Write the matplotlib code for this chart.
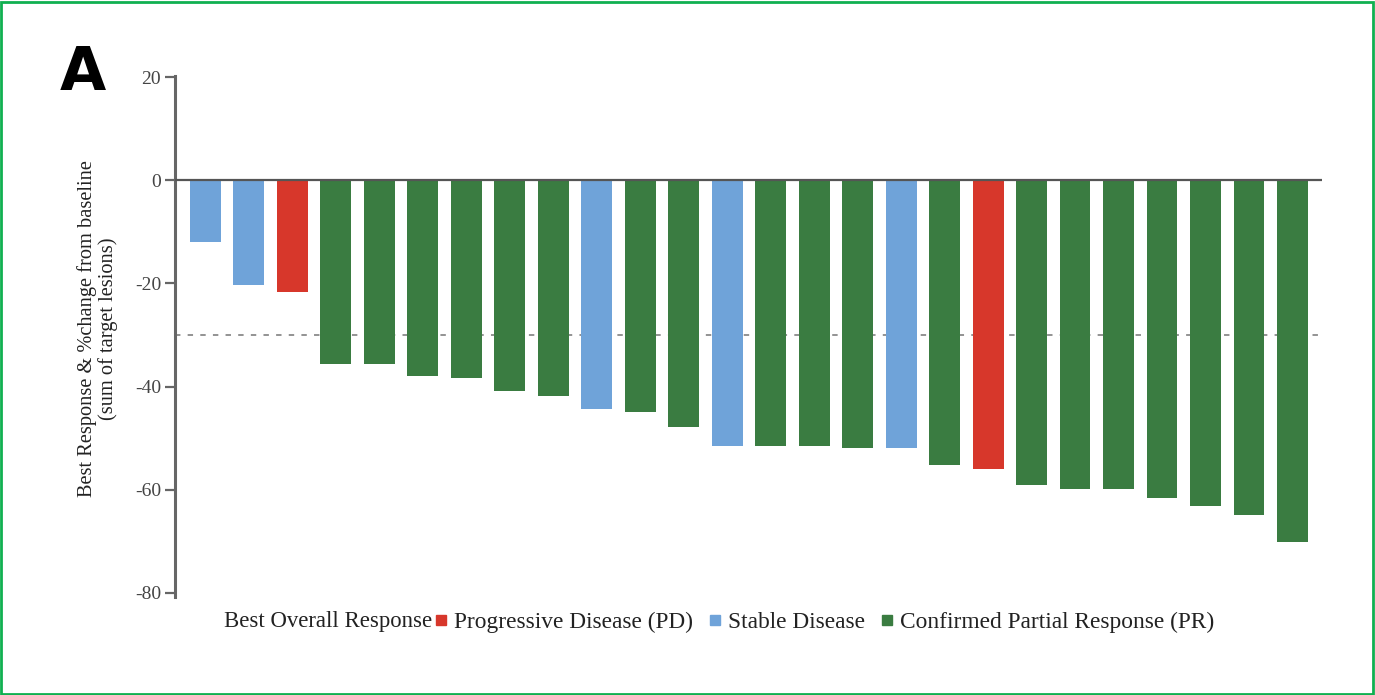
import matplotlib
matplotlib.use("Agg")
import matplotlib.pyplot as plt
from matplotlib.lines import Line2D
from matplotlib.patches import Rectangle

# Best % change from baseline in sum of target lesions, one bar per patient
changes = [-12.0, -20.4, -21.7, -35.7, -35.7, -38.0, -38.4, -40.8, -41.9,
           -44.3, -44.9, -47.8, -51.5, -51.5, -51.5, -52.0, -52.0, -55.3,
           -55.9, -59.0, -59.8, -59.8, -61.7, -63.1, -65.0, -70.1]
responses = ["SD", "SD", "PD", "PR", "PR", "PR", "PR", "PR", "PR",
             "SD", "PR", "PR", "SD", "PR", "PR", "PR", "SD", "PR",
             "PD", "PR", "PR", "PR", "PR", "PR", "PR", "PR"]
response_labels = {"PD": "Progressive Disease (PD)",
                   "SD": "Stable Disease",
                   "PR": "Confirmed Partial Response (PR)"}
yticks = [20, 0, -20, -40, -60, -80]
pr_threshold = -30

colors = {"PD": "#d7372b", "SD": "#6fa3d9", "PR": "#3a7c41"}

plt.rcParams["font.family"] = ["Liberation Serif", "DejaVu Serif"]

W, H = 1375, 695
fig = plt.figure(figsize=(W / 100, H / 100), dpi=100)
ax = fig.add_axes([175 / W, 1 - 597 / H, (1322 - 175) / W, (597 - 76) / H])

x = list(range(len(changes)))
ax.bar(x, changes, width=0.71, color=[colors[r] for r in responses],
       zorder=2)
ax.axhline(0, color="#555555", lw=1.6, zorder=3)
ax.axhline(pr_threshold, color="#8a8a8a", lw=1.3, ls=(0, (3, 4)), zorder=1)

ax.set_xlim(-0.70, 25.68)
ax.set_ylim(-80.8, 20.2)
ax.set_yticks(yticks)
ax.set_yticklabels([str(t) for t in yticks])
ax.set_xticks([])
for side in ("top", "right", "bottom"):
    ax.spines[side].set_visible(False)
ax.spines["left"].set_color("#666666")
ax.spines["left"].set_linewidth(2.2)
ax.tick_params(axis="y", length=7, width=1.6, color="#666666",
               labelsize=14, labelcolor="#444444", pad=3)

ax.set_ylabel("Best Response & %change from baseline\n(sum of target lesions)",
              fontsize=14.7, color="#222222", linespacing=1.1, labelpad=12)
ax.yaxis.label.set_y(0.515)

# legend row under the plot
fig.text(224 / W, 1 - 622 / H, "Best Overall Response", fontsize=16.4,
         color="#222222", ha="left", va="center")
handles = [Line2D([], [], ls="none", marker="s", markersize=7,
                  markerfacecolor=colors[k], markeredgecolor=colors[k],
                  label=response_labels[k]) for k in ("PD", "SD", "PR")]
fig.legend(handles=handles, loc="center left",
           bbox_to_anchor=(436 / W, 1 - 622 / H), ncol=3, frameon=False,
           fontsize=16.8, handlelength=0.45, handletextpad=0.3,
           columnspacing=0.75, borderaxespad=0, borderpad=0,
           labelcolor="#222222")

# panel letter
fig.text(60 / W, 1 - 73 / H, "A", fontsize=43, fontweight="bold",
         family="DejaVu Sans", ha="left", va="center", color="black")

# outer frame
fig.patches.append(Rectangle((1 / W, 1 / H), (W - 3) / W, (H - 3) / H,
                             transform=fig.transFigure, fill=False,
                             edgecolor="#10b050", lw=2))

fig.savefig("out.png", dpi=100)
